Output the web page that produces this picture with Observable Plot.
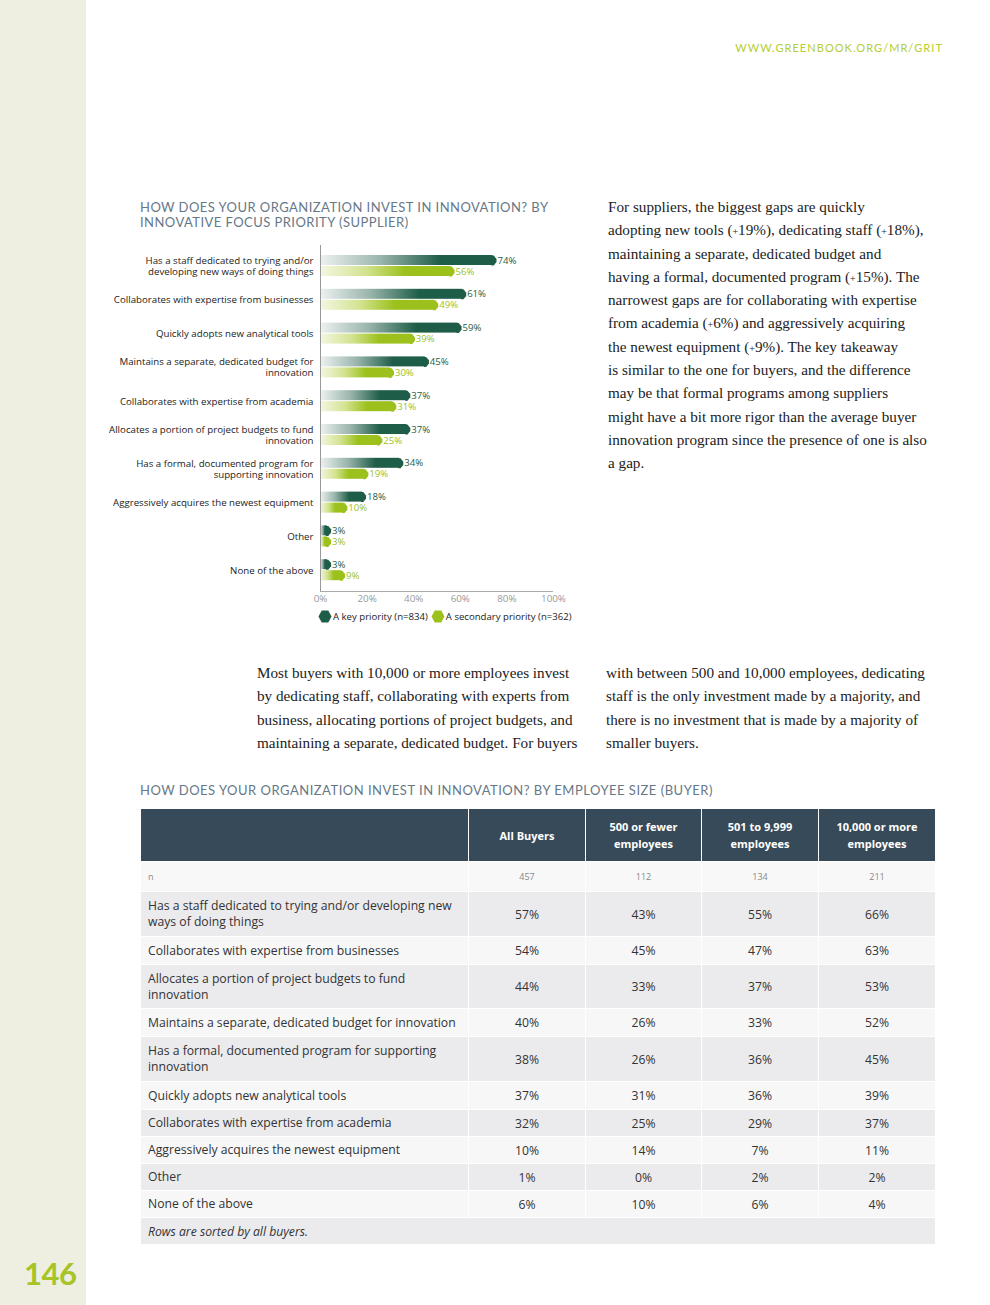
<!DOCTYPE html>
<html>
<head>
<meta charset="utf-8">
<script src="https://cdn.jsdelivr.net/npm/d3@7"></script>
<script src="https://cdn.jsdelivr.net/npm/@observablehq/plot@0.6"></script>
<style>
  html, body { margin: 0; padding: 0; }
  body { width: 990px; height: 1305px; position: relative; background: #fff; font-family: "Open Sans", Lato, sans-serif; overflow: hidden; }
  .abs { position: absolute; }
  #sidebar { left: 0; top: 0; width: 86px; height: 1305px; background: #eeeee1; }
  #pagenum { left: 24px; top: 1254px; font-family: Lato, sans-serif; font-size: 31px; font-weight: 700; color: #a6c425; letter-spacing: -0.5px; }
  #url { right: 47px; top: 41px; font-family: Lato, sans-serif; font-size: 11px; letter-spacing: 1.05px; color: #b5cd36; }
  .ctitle { font-family: Lato, sans-serif; font-size: 13px; color: #667887; letter-spacing: 0.45px; line-height: 15px; white-space: nowrap; }
  .body { font-family: "Liberation Serif", serif; font-size: 15.2px; line-height: 23.3px; color: #222; white-space: nowrap; }
  .body small { font-size: 10px; line-height: 0; vertical-align: baseline; }
  #legend { left: 318px; top: 610px; font-size: 9.6px; color: #222; display: flex; align-items: center; white-space: nowrap; }
  #legend span.item { display: inline-flex; align-items: center; margin-right: 3px; }
  #legend svg { margin-right: 1px; }
  table { border-collapse: collapse; table-layout: fixed; font-size: 12.2px; color: #333; }
  td, th { border-left: 1px solid #fff; border-right: 1px solid #fff; border-top: 1px solid #fff; padding: 0 7px; }
  th { background: #374a59; color: #fff; font-size: 11px; font-weight: 700; line-height: 17px; text-align: center; height: 52px; }
  td.num { text-align: center; }
  tr.n td { color: #888; font-size: 9px; height: 29px; background: #f8f8f9; }
  tr.r0 td { background: #ebebee; }
  tr.r1 td { background: #f7f7f8; }
  tr.foot td { background: #ebebee; font-style: italic; height: 26px; }
</style>
</head>
<body>
<div id="sidebar" class="abs"></div>
<div id="pagenum" class="abs">146</div>
<div id="url" class="abs">WWW.GREENBOOK.ORG/MR/GRIT</div>

<div class="abs ctitle" style="left:140px; top:200px;">HOW DOES YOUR ORGANIZATION INVEST IN INNOVATION? BY<br>INNOVATIVE FOCUS PRIORITY (SUPPLIER)</div>
<div id="chart" class="abs" style="left:100px; top:235px;"></div>
<div id="legend" class="abs"></div>

<div class="abs body" style="left:608px; top:195px;">
For suppliers, the biggest gaps are quickly<br>
adopting new tools (<small>+</small>19%), dedicating staff (<small>+</small>18%),<br>
maintaining a separate, dedicated budget and<br>
having a formal, documented program (<small>+</small>15%). The<br>
narrowest gaps are for collaborating with expertise<br>
from academia (<small>+</small>6%) and aggressively acquiring<br>
the newest equipment (<small>+</small>9%). The key takeaway<br>
is similar to the one for buyers, and the difference<br>
may be that formal programs among suppliers<br>
might have a bit more rigor than the average buyer<br>
innovation program since the presence of one is also<br>
a gap.
</div>

<div class="abs body" style="left:257px; top:661px;">
Most buyers with 10,000 or more employees invest<br>
by dedicating staff, collaborating with experts from<br>
business, allocating portions of project budgets, and<br>
maintaining a separate, dedicated budget. For buyers
</div>
<div class="abs body" style="left:606px; top:661px;">
with between 500 and 10,000 employees, dedicating<br>
staff is the only investment made by a majority, and<br>
there is no investment that is made by a majority of<br>
smaller buyers.
</div>

<div class="abs ctitle" style="left:140px; top:783px; letter-spacing:0.5px;">HOW DOES YOUR ORGANIZATION INVEST IN INNOVATION? BY EMPLOYEE SIZE (BUYER)</div>
<div id="tablewrap" class="abs" style="left:140px; top:808px;"></div>

<script>
// ---------- Chart data ----------
const categories = [
  "Has a staff dedicated to trying and/or developing new ways of doing things",
  "Collaborates with expertise from businesses",
  "Quickly adopts new analytical tools",
  "Maintains a separate, dedicated budget for innovation",
  "Collaborates with expertise from academia",
  "Allocates a portion of project budgets to fund innovation",
  "Has a formal, documented program for supporting innovation",
  "Aggressively acquires the newest equipment",
  "Other",
  "None of the above"
];
const categoryLabels = [
  "Has a staff dedicated to trying and/or\ndeveloping new ways of doing things",
  "Collaborates with expertise from businesses",
  "Quickly adopts new analytical tools",
  "Maintains a separate, dedicated budget for\ninnovation",
  "Collaborates with expertise from academia",
  "Allocates a portion of project budgets to fund\ninnovation",
  "Has a formal, documented program for\nsupporting innovation",
  "Aggressively acquires the newest equipment",
  "Other",
  "None of the above"
];
const keyPriority = [74, 61, 59, 45, 37, 37, 34, 18, 3, 3];
const secondaryPriority = [56, 49, 39, 30, 31, 25, 19, 10, 3, 9];
const seriesNames = ["A key priority (n=834)", "A secondary priority (n=362)"];
const xTicks = [0, 20, 40, 60, 80, 100];

// ---------- Table data ----------
const tableColumns = ["All Buyers", "500 or fewer\nemployees", "501 to 9,999\nemployees", "10,000 or more\nemployees"];
const tableN = [457, 112, 134, 211];
const tableRows = [
  "Has a staff dedicated to trying and/or developing new ways of doing things",
  "Collaborates with expertise from businesses",
  "Allocates a portion of project budgets to fund innovation",
  "Maintains a separate, dedicated budget for innovation",
  "Has a formal, documented program for supporting innovation",
  "Quickly adopts new analytical tools",
  "Collaborates with expertise from academia",
  "Aggressively acquires the newest equipment",
  "Other",
  "None of the above"
];
const allBuyers = [57, 54, 44, 40, 38, 37, 32, 10, 1, 6];
const fewer500 = [43, 45, 33, 26, 26, 31, 25, 14, 0, 10];
const mid501to9999 = [55, 47, 37, 33, 36, 36, 29, 7, 2, 6];
const large10000 = [66, 63, 53, 52, 45, 39, 37, 11, 2, 4];
const tableNote = "Rows are sorted by all buyers.";

// ---------- Colors ----------
const darkGreen = "#1e5d47";
const lightGreen = "#9cc11d";

const keyData = categories.map((c, i) => ({category: c, value: keyPriority[i]}));
const secData = categories.map((c, i) => ({category: c, value: secondaryPriority[i]}));
const labelOf = new Map(categories.map((c, i) => [c, categoryLabels[i]]));

const tipSymbol = {
  draw(ctx) {
    ctx.moveTo(-1.5, -5);
    ctx.lineTo(0.8, -5);
    ctx.lineTo(3.6, -1.6);
    ctx.lineTo(3.6, 1.6);
    ctx.lineTo(0.8, 5);
    ctx.lineTo(-1.5, 5);
    ctx.closePath();
  }
};

function gradientDefs() {
  const defs = d3.create("svg:defs");
  const g1 = defs.append("linearGradient").attr("id", "gradKey").attr("x1", 0).attr("x2", 1).attr("y1", 0).attr("y2", 0);
  g1.append("stop").attr("offset", "0%").attr("stop-color", "#eef2f1");
  g1.append("stop").attr("offset", "35%").attr("stop-color", "#9ab5ad");
  g1.append("stop").attr("offset", "70%").attr("stop-color", darkGreen);
  g1.append("stop").attr("offset", "100%").attr("stop-color", darkGreen);
  const g2 = defs.append("linearGradient").attr("id", "gradSec").attr("x1", 0).attr("x2", 1).attr("y1", 0).attr("y2", 0);
  g2.append("stop").attr("offset", "0%").attr("stop-color", "#f4f7e2");
  g2.append("stop").attr("offset", "35%").attr("stop-color", "#d3e391");
  g2.append("stop").attr("offset", "65%").attr("stop-color", lightGreen);
  g2.append("stop").attr("offset", "100%").attr("stop-color", lightGreen);
  return defs.node();
}

function bottomLine(index, scales, values, dims) {
  const y = dims.height - dims.marginBottom + 0.5;
  const line = d3.create("svg:line")
    .attr("x1", scales.x(0)).attr("x2", scales.x(100))
    .attr("y1", y).attr("y2", y)
    .attr("stroke", "#aaa").attr("stroke-width", 1);
  return line.node();
}

const chart = Plot.plot({
  width: 490,
  height: 380,
  marginLeft: 220,
  marginRight: 37,
  marginTop: 10,
  marginBottom: 24,
  style: {fontFamily: "'Open Sans', sans-serif", fontSize: "9px", color: "#222", background: "transparent", overflow: "visible"},
  x: {domain: [0, 100], axis: null},
  y: {domain: categories, padding: 0, round: false, insetTop: 3.6, insetBottom: 4.4, axis: null},
  marks: [
    gradientDefs,
    Plot.barX(keyData, {x1: 0, x2: "value", y: "category", fill: "url(#gradKey)", insetTop: 6.4, insetBottom: 17.4}),
    Plot.barX(secData, {x1: 0, x2: "value", y: "category", fill: "url(#gradSec)", insetTop: 17.4, insetBottom: 6.4}),
    Plot.dot(keyData, {x: "value", y: "category", dy: -5.5, symbol: tipSymbol, fill: darkGreen, stroke: "none"}),
    Plot.dot(secData, {x: "value", y: "category", dy: 5.5, symbol: tipSymbol, fill: lightGreen, stroke: "none"}),
    Plot.text(keyData, {x: "value", y: "category", dy: -5.5, dx: 4.5, text: d => d.value + "%", textAnchor: "start", fill: darkGreen, fontSize: 9.6}),
    Plot.text(secData, {x: "value", y: "category", dy: 5.5, dx: 4.5, text: d => d.value + "%", textAnchor: "start", fill: lightGreen, fontSize: 9.6}),
    Plot.ruleX([0], {stroke: "#999", strokeWidth: 1}),
    bottomLine,
    Plot.axisY({tickSize: 0, tickPadding: 7, tickFormat: d => labelOf.get(d), fontSize: 9.7, lineHeight: 1.13, fill: "#222", label: null}),
    Plot.axisX({ticks: xTicks, tickFormat: d => d + "%", tickSize: 0, tickPadding: 4, fontSize: 9.8, fill: "#999", label: null})
  ]
});
document.getElementById("chart").appendChild(chart);

// Legend
const legend = document.getElementById("legend");
[darkGreen, lightGreen].forEach((color, i) => {
  const item = document.createElement("span");
  item.className = "item";
  item.innerHTML = `<svg width="14" height="13" viewBox="-7 -6.5 14 13"><path d="M-6.5,0 L-3.3,-6 L3.3,-6 L6.5,0 L3.3,6 L-3.3,6 Z" fill="${color}"/></svg>` + seriesNames[i];
  legend.appendChild(item);
});

// Table
const heights = [45, 28, 44, 28, 45, 28, 27, 27, 27, 27];
let html = '<table style="width:795px"><colgroup><col style="width:328px"><col style="width:117px"><col style="width:116px"><col style="width:117px"><col style="width:117px"></colgroup>';
html += '<tr><th></th>' + tableColumns.map(c => `<th>${c.replace("\n", "<br>")}</th>`).join("") + '</tr>';
html += '<tr class="n"><td>n</td>' + tableN.map(v => `<td class="num">${v}</td>`).join("") + '</tr>';
tableRows.forEach((r, i) => {
  const vals = [allBuyers[i], fewer500[i], mid501to9999[i], large10000[i]];
  html += `<tr class="r${i % 2}"><td style="height:${heights[i] - 1}px; line-height:16px">${r}</td>` + vals.map(v => `<td class="num">${v}%</td>`).join("") + '</tr>';
});
html += `<tr class="foot"><td colspan="5">${tableNote}</td></tr></table>`;
document.getElementById("tablewrap").innerHTML = html;
</script>
</body>
</html>
